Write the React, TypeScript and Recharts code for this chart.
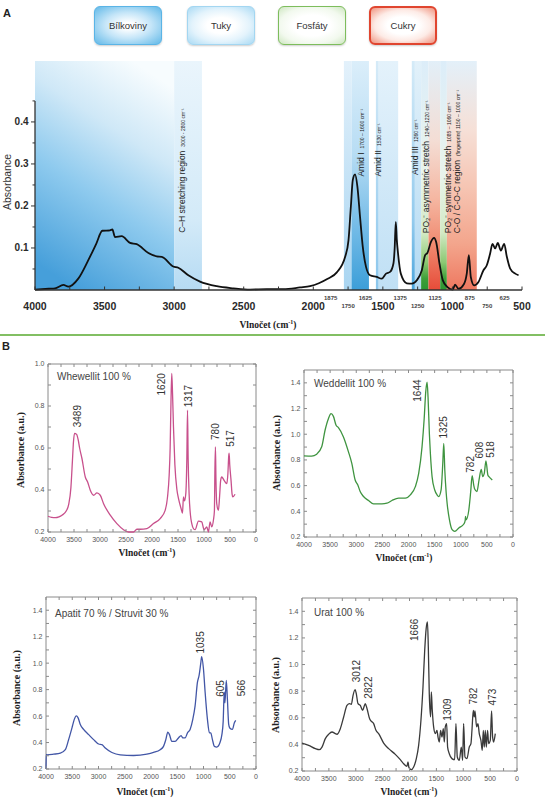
import React from 'react';
import { LineChart, Line, XAxis, YAxis, ReferenceArea, ReferenceLine, ReferenceDot } from 'recharts';

type Pt = [number, number];

const SANS = 'Arial, "Liberation Sans", sans-serif';
const SERIF = '"Times New Roman", "Liberation Serif", serif';

// ---- Panel A: tissue spectrum (wavenumber, absorbance)
const tissue: Pt[] = [
  [4000, 0.001], [3900, 0.003], [3856, 0.004], [3796, 0.012], [3760, 0.008], [3689, 0.027],
  [3617, 0.071], [3560, 0.11], [3516, 0.141], [3461, 0.142], [3444, 0.144], [3425, 0.126],
  [3377, 0.128], [3317, 0.112], [3269, 0.109], [3185, 0.088], [3125, 0.08], [3089, 0.079],
  [3006, 0.056], [2970, 0.053], [2898, 0.035], [2814, 0.02], [2694, 0.009], [2574, 0.004],
  [2454, 0.001], [2334, 0.002], [2215, 0.002], [2095, 0.006], [2023, 0.009], [1960, 0.016],
  [1900, 0.026], [1831, 0.042], [1771, 0.079], [1747, 0.118], [1730, 0.198], [1716, 0.262],
  [1700, 0.275], [1683, 0.246], [1664, 0.174], [1644, 0.102], [1621, 0.055], [1592, 0.035],
  [1544, 0.031], [1508, 0.027], [1477, 0.039], [1448, 0.043], [1424, 0.063], [1415, 0.1],
  [1407, 0.162], [1400, 0.12], [1393, 0.094], [1371, 0.039], [1328, 0.016], [1292, 0.015],
  [1256, 0.023], [1220, 0.047], [1196, 0.083], [1180, 0.088], [1155, 0.114], [1132, 0.124],
  [1117, 0.114], [1093, 0.063], [1069, 0.023], [1036, 0.007], [997, 0.001], [981, 0.013],
  [957, 0.003], [916, 0.015], [897, 0.039], [882, 0.083], [868, 0.031], [844, 0.011],
  [813, 0.019], [777, 0.047], [753, 0.059], [729, 0.087], [712, 0.11], [693, 0.099],
  [674, 0.112], [652, 0.094], [628, 0.11], [609, 0.079], [585, 0.051], [549, 0.039], [525, 0.035],
];

const tissueMajorTicks = [4000, 3500, 3000, 2500, 2000, 1500, 1000, 500];
const tissueUpperMinor = [1875, 1625, 1375, 1125, 875, 625];
const tissueLowerMinor = [1750, 1250, 750];
const tissueTickMarks = [4000, 3750, 3500, 3250, 3000, 2750, 2500, 2250, 2000, 1750, 1500, 1250, 1000, 750, 500];
const tissueYTicks = [0.05, 0.1, 0.15, 0.2, 0.25, 0.3, 0.35, 0.4, 0.45];
const tissueYLabels = [0.1, 0.2, 0.3, 0.4];

const bandRanges: Pt[] = [
  [4000, 3000], [3000, 2800], [1780, 1725], [1725, 1600], [1550, 1530], [1530, 1390],
  [1292, 1270], [1270, 1225], [1225, 1172], [1172, 1088], [1088, 1040], [1040, 825],
];
const bandFills = ['gBig', 'gCH', 'gAm1a', 'gAm1b', 'gAm2a', 'gAm2b', 'gAm3a', 'gAm3b', 'gGreen', 'gRed1', 'gGreen', 'gRed2'];

const bandTitles = ['C–H stretching region', 'Amid I', 'Amid II', 'Amid III', 'PO₂⁻ asymmetric stretch', 'PO₂⁻ symmetric stretch', 'C-O / C-O-C region'];
const bandNotes = ['3000 - 2800 cm⁻¹', '1700 – 1600 cm⁻¹', '1530 cm⁻¹', '1260 cm⁻¹', '1240–1220 cm⁻¹', '1085 – 1060 cm⁻¹', '(fingerprint) 1150 – 1000 cm⁻¹'];
// where each rotated caption starts (wavenumber, absorbance)
const bandTextAnchors: Pt[] = [[2945, 0.136], [1659, 0.27], [1532, 0.27], [1268, 0.274], [1189, 0.135], [1029, 0.135], [965, 0.135]];

const categories = ['Bílkoviny', 'Tuky', 'Fosfáty', 'Cukry'];

// ---- Panel B: stone spectra
const whewellit: Pt[] = [
  [4000, 0.275], [3930, 0.27], [3859, 0.268], [3790, 0.272], [3731, 0.28], [3650, 0.3], [3603, 0.33],
  [3560, 0.41], [3530, 0.54], [3510, 0.63], [3489, 0.67], [3450, 0.665], [3420, 0.64], [3392, 0.6],
  [3347, 0.55], [3283, 0.462], [3238, 0.438], [3187, 0.399], [3123, 0.375], [3059, 0.386],
  [2995, 0.375], [2931, 0.335], [2803, 0.28], [2675, 0.24], [2547, 0.211], [2451, 0.2], [2355, 0.2],
  [2291, 0.213], [2227, 0.213], [2099, 0.216], [1971, 0.24], [1843, 0.264], [1747, 0.303],
  [1700, 0.37], [1670, 0.47], [1651, 0.6], [1635, 0.82], [1620, 0.955], [1605, 0.86], [1587, 0.7],
  [1560, 0.52], [1520, 0.4], [1491, 0.36], [1440, 0.311], [1414, 0.29], [1395, 0.367], [1376, 0.348],
  [1350, 0.383], [1330, 0.55], [1317, 0.78], [1305, 0.55], [1286, 0.38], [1260, 0.28], [1235, 0.24],
  [1200, 0.215], [1171, 0.211], [1107, 0.252], [1043, 0.248], [998, 0.211], [947, 0.224], [915, 0.2],
  [883, 0.248], [851, 0.224], [819, 0.256], [800, 0.3], [790, 0.5], [780, 0.605], [770, 0.45],
  [755, 0.335], [723, 0.303], [700, 0.37], [680, 0.445], [659, 0.462], [614, 0.446], [563, 0.43],
  [540, 0.48], [525, 0.56], [517, 0.575], [505, 0.52], [480, 0.446], [460, 0.38], [448, 0.367], [403, 0.38],
];
const whewellitPeaks = [3489, 1620, 1317, 780, 517];

const weddellit: Pt[] = [
  [4000, 0.832], [3853, 0.83], [3757, 0.845], [3661, 0.902], [3597, 1.031], [3533, 1.121], [3482, 1.16],
  [3437, 1.139], [3386, 1.07], [3341, 1.052], [3245, 0.979], [3149, 0.863], [3085, 0.773], [3021, 0.644],
  [2970, 0.605], [2925, 0.554], [2861, 0.515], [2765, 0.484], [2669, 0.458], [2509, 0.458], [2413, 0.463],
  [2317, 0.484], [2189, 0.502], [2061, 0.502], [1965, 0.528], [1869, 0.592], [1805, 0.695], [1741, 0.902],
  [1700, 1.12], [1670, 1.33], [1644, 1.405], [1626, 1.289], [1600, 1.0], [1581, 0.85], [1549, 0.67],
  [1498, 0.566], [1453, 0.528], [1421, 0.515], [1376, 0.566], [1344, 0.773], [1325, 0.928], [1305, 0.72],
  [1280, 0.55], [1261, 0.463], [1216, 0.334], [1165, 0.257], [1114, 0.244], [1037, 0.27], [941, 0.301],
  [915, 0.33], [909, 0.36], [898, 0.334], [845, 0.412], [810, 0.55], [782, 0.677], [750, 0.6],
  [736, 0.575], [690, 0.554], [650, 0.644], [608, 0.726], [580, 0.67], [550, 0.695], [518, 0.793],
  [480, 0.68], [461, 0.67], [397, 0.644],
];
const weddellitPeaks = [1644, 1325, 782, 608, 518];

const apatit: Pt[] = [
  [4000, 0.2], [3995, 0.31], [3981, 0.307], [3854, 0.312], [3727, 0.32], [3632, 0.346], [3569, 0.422],
  [3505, 0.511], [3461, 0.575], [3423, 0.601], [3391, 0.588], [3347, 0.537], [3284, 0.499], [3188, 0.46],
  [3093, 0.422], [2998, 0.389], [2935, 0.384], [2871, 0.358], [2745, 0.325], [2586, 0.307], [2333, 0.302],
  [2079, 0.312], [1952, 0.325], [1825, 0.346], [1762, 0.371], [1718, 0.422], [1680, 0.478], [1648, 0.46],
  [1604, 0.409], [1540, 0.409], [1477, 0.435], [1426, 0.453], [1394, 0.435], [1350, 0.435], [1305, 0.473],
  [1255, 0.499], [1204, 0.575], [1160, 0.677], [1115, 0.856], [1084, 0.907], [1052, 1.0], [1035, 1.05],
  [1001, 0.958], [969, 0.78], [925, 0.575], [887, 0.473], [862, 0.473], [830, 0.422], [792, 0.371],
  [747, 0.366], [684, 0.402], [650, 0.46], [625, 0.56], [605, 0.78], [592, 0.7], [566, 0.87], [545, 0.73],
  [520, 0.537], [500, 0.51], [450, 0.499], [412, 0.55], [386, 0.568],
];
const apatitPeaks = [1035, 605, 566];

const urat: Pt[] = [
  [4000, 0.41], [3876, 0.393], [3752, 0.368], [3678, 0.36], [3628, 0.38], [3566, 0.443], [3504, 0.476],
  [3442, 0.493], [3380, 0.481], [3349, 0.476], [3287, 0.518], [3225, 0.606], [3163, 0.693], [3113, 0.706],
  [3082, 0.701], [3050, 0.769], [3012, 0.811], [2990, 0.781], [2958, 0.706], [2915, 0.693], [2872, 0.656],
  [2840, 0.69], [2822, 0.706], [2790, 0.668], [2740, 0.59], [2700, 0.57], [2667, 0.556], [2624, 0.506],
  [2574, 0.481], [2481, 0.41], [2388, 0.368], [2264, 0.325], [2171, 0.285], [2109, 0.255], [2047, 0.235],
  [2028, 0.268], [2010, 0.225], [1966, 0.21], [1923, 0.23], [1873, 0.293], [1830, 0.393], [1787, 0.581],
  [1749, 0.831], [1718, 1.1], [1690, 1.27], [1666, 1.32], [1650, 1.132], [1632, 0.781], [1607, 0.606],
  [1594, 0.794], [1576, 0.656], [1551, 0.531], [1520, 0.481], [1489, 0.506], [1470, 0.456], [1446, 0.418],
  [1421, 0.506], [1396, 0.456], [1371, 0.518], [1353, 0.418], [1334, 0.531], [1309, 0.556], [1291, 0.38],
  [1260, 0.33], [1210, 0.293], [1160, 0.285], [1136, 0.556], [1111, 0.305], [1074, 0.28], [1036, 0.38],
  [1012, 0.28], [993, 0.556], [968, 0.305], [931, 0.293], [888, 0.38], [857, 0.406], [838, 0.506],
  [813, 0.656], [795, 0.606], [782, 0.651], [751, 0.531], [726, 0.556], [702, 0.481], [671, 0.43],
  [646, 0.355], [627, 0.506], [609, 0.38], [590, 0.506], [571, 0.38], [547, 0.506], [528, 0.406],
  [497, 0.43], [473, 0.651], [454, 0.456], [435, 0.418], [404, 0.481],
];
const uratPeaks = [3012, 2822, 1666, 1309, 782, 473];

const stoneXTicks = [4000, 3750, 3500, 3250, 3000, 2750, 2500, 2250, 2000, 1750, 1500, 1250, 1000, 750, 500, 250, 0];
const yTicksLow = [0.2, 0.3, 0.4, 0.5, 0.6, 0.7, 0.8, 0.9, 1.0];
const yTicksHigh = [0.2, 0.3, 0.4, 0.5, 0.6, 0.7, 0.8, 0.9, 1.0, 1.1, 1.2, 1.3, 1.4];

const rows = (pts: Pt[]) => pts.map(([w, a]) => ({ w, a }));
const heightAt = (pts: Pt[], w: number) => (pts.find((p) => p[0] === w) || [w, 0])[1];

// ---------- Panel A pieces
const TissueXTick = (p: any) => {
  const { x, y, payload } = p;
  const v = payload.value;
  return (
    <g fontFamily={SANS} fontWeight="bold" fill="#2a2a2a">
      {tissueTickMarks.includes(v) && <line x1={x} x2={x} y1={y} y2={y - 3.5} stroke="#333" strokeWidth={1} />}
      {tissueMajorTicks.includes(v) && (
        <text x={x} y={y + 19.5} textAnchor="middle" fontSize={10.5}>{v}</text>
      )}
      {tissueUpperMinor.includes(v) && (
        <text x={x} y={y + 9.5} textAnchor="middle" fontSize={6} fill="#444">{v}</text>
      )}
      {tissueLowerMinor.includes(v) && (
        <text x={x} y={y + 17.5} textAnchor="middle" fontSize={6} fill="#444">{v}</text>
      )}
    </g>
  );
};

const TissueYTick = (p: any) => {
  const { x, y, payload } = p;
  const v = payload.value;
  const major = tissueYLabels.includes(v);
  return (
    <g>
      <line x1={x} x2={x - (major ? 4 : 2.5)} y1={y} y2={y} stroke="#333" strokeWidth={1} />
      {major && (
        <text x={x - 6.5} y={y} dy="0.35em" textAnchor="end" fontSize={10} fontWeight="bold" fontFamily={SANS} fill="#2a2a2a">
          {v.toFixed(1)}
        </text>
      )}
    </g>
  );
};

const bandCaption = (title: string, note: string) => (p: any) => {
  const bx = p.cx + 3;
  const by = p.cy;
  return (
    <text x={bx} y={by} transform={`rotate(-90 ${bx} ${by})`} fontFamily={SANS} fontSize={8.5} fill="#222">
      {title}
      <tspan dx={4} fontSize={5}>{note}</tspan>
    </text>
  );
};

const Gradient = ({ id, stops, x1 = 0, y1 = 0, x2 = 0, y2 = 1 }: any) => (
  <linearGradient id={id} x1={x1} y1={y1} x2={x2} y2={y2}>
    {stops.map(([o, c]: [number, string]) => (
      <stop key={o} offset={o} stopColor={c} />
    ))}
  </linearGradient>
);

const TissueChart = () => {
  const ticks = Array.from(new Set([...tissueTickMarks, ...tissueUpperMinor])).sort((a, b) => b - a);
  return (
    <LineChart width={545} height={340} data={rows(tissue)} margin={{ top: 61, right: 23, bottom: 0, left: 0 }}>
      <defs>
        <Gradient id="gBig" x1={0.7} y1={0} x2={0.3} y2={1}
          stops={[[0, '#f7fcfe'], [0.3, '#cfe8f7'], [0.6, '#8ecaee'], [1, '#469fda']]} />
        <Gradient id="gCH" stops={[[0, '#eaf5fc'], [0.7, '#d3eaf8'], [1, '#b6dbf3']]} />
        <Gradient id="gAm1a" stops={[[0, '#e3f1fb'], [1, '#a9d5f1']]} />
        <Gradient id="gAm1b" stops={[[0, '#dbeefa'], [0.4, '#b8ddf4'], [0.75, '#6fb9e6'], [1, '#3c9ed8']]} />
        <Gradient id="gAm2a" stops={[[0, '#d6ebf8'], [1, '#8ac6ec']]} />
        <Gradient id="gAm2b" stops={[[0, '#e4f2fb'], [1, '#c0e0f5']]} />
        <Gradient id="gAm3a" stops={[[0, '#d5ebf8'], [0.7, '#92caed'], [1, '#4aa5dc']]} />
        <Gradient id="gAm3b" stops={[[0, '#e2f1fa'], [1, '#b3daf3']]} />
        <Gradient id="gGreen"
          stops={[[0, '#dcedf9'], [0.5, '#e9f4ec'], [0.75, '#d3eac5'], [0.88, '#8cc873'], [0.95, '#3e9f39'], [1, '#2c9632']]} />
        <Gradient id="gRed1"
          stops={[[0, '#e2eff8'], [0.35, '#f4ddd4'], [0.6, '#f5b7a2'], [0.8, '#f08a70'], [1, '#e64c39']]} />
        <Gradient id="gRed2"
          stops={[[0, '#e3f0f9'], [0.3, '#f6e0d7'], [0.55, '#f6c5b3'], [0.8, '#f3a58c'], [1, '#ee7860']]} />
      </defs>
      {bandRanges.map(([from, to], i) => (
        <ReferenceArea key={i} x1={from} x2={to} fill={`url(#${bandFills[i]})`} fillOpacity={1} stroke="none" />
      ))}
      <XAxis dataKey="w" type="number" domain={[500, 4000]} reversed ticks={ticks} interval={0}
        tickSize={0} tickMargin={0} tickLine={false} axisLine={{ stroke: '#333', strokeWidth: 1.5 }}
        tick={TissueXTick} height={50} />
      <YAxis type="number" domain={[0, 0.545]} ticks={tissueYTicks} interval={0} width={35}
        tickSize={0} tickMargin={0} tickLine={false} axisLine={false} tick={TissueYTick} />
      <ReferenceLine segment={[{ x: 4000, y: 0 }, { x: 4000, y: 0.45 }]} stroke="#333" strokeWidth={1.3} />
      <Line dataKey="a" type="monotone" stroke="#111" strokeWidth={1.8} dot={false} isAnimationActive={false} />
      {bandTextAnchors.map(([w, a], i) => (
        <ReferenceDot key={i} x={w} y={a} r={0} shape={bandCaption(bandTitles[i], bandNotes[i])} />
      ))}
    </LineChart>
  );
};

// ---------- Panel B pieces
const FRAME = '#8a8a8a';

const stoneXTick = (plotH: number) => (p: any) => {
  const { x, y, payload } = p;
  const v = payload.value;
  return (
    <g>
      <line x1={x} x2={x} y1={y} y2={y - 3} stroke={FRAME} />
      <line x1={x} x2={x} y1={y - plotH} y2={y - plotH + 3} stroke={FRAME} />
      {v % 500 === 0 && (
        <text x={x} y={y + 10} textAnchor="middle" fontSize={7} fontFamily={SANS} fill="#555">{v}</text>
      )}
    </g>
  );
};

const stoneYTick = (plotW: number) => (p: any) => {
  const { x, y, payload } = p;
  const v = payload.value;
  const labelled = Math.round(v * 10) % 2 === 0;
  return (
    <g>
      <line x1={x} x2={x + 3} y1={y} y2={y} stroke={FRAME} />
      <line x1={x + plotW} x2={x + plotW - 3} y1={y} y2={y} stroke={FRAME} />
      {labelled && (
        <text x={x - 3.5} y={y} dy="0.35em" textAnchor="end" fontSize={7} fontFamily={SANS} fill="#555">
          {v.toFixed(1)}
        </text>
      )}
    </g>
  );
};

const peakLabel = (text: string, dx: number, dy: number) => (p: any) => {
  const bx = p.cx + dx + 3.5;
  const by = p.cy + dy;
  return (
    <text x={bx} y={by} transform={`rotate(-90 ${bx} ${by})`} fontSize={10} fontFamily={SANS} fill="#333">
      {text}
    </text>
  );
};

interface StoneProps {
  box: { left: number; top: number; width: number; height: number };
  plot: { l: number; t: number; r: number; b: number };
  data: Pt[];
  peaks: number[];
  shifts: Pt[];
  color: string;
  yMax: number;
  yTicks: number[];
}

const StoneChart = ({ box, plot, data, peaks, shifts, color, yMax, yTicks }: StoneProps) => {
  const plotW = plot.r - plot.l;
  const plotH = plot.b - plot.t;
  return (
    <div style={{ position: 'absolute', left: box.left, top: box.top }}>
      <LineChart width={box.width} height={box.height} data={rows(data)}
        margin={{ top: plot.t - box.top, right: box.left + box.width - plot.r, bottom: 0, left: 0 }}>
        <ReferenceArea x1={0} x2={4000} y1={0.2} y2={yMax} fill="none" stroke={FRAME} strokeWidth={1} />
        <XAxis dataKey="w" type="number" domain={[0, 4000]} reversed ticks={stoneXTicks} interval={0}
          tickSize={0} tickMargin={0} tickLine={false} axisLine={false}
          tick={stoneXTick(plotH)} height={box.top + box.height - plot.b} />
        <YAxis type="number" domain={[0.2, yMax]} ticks={yTicks} interval={0} width={plot.l - box.left}
          tickSize={0} tickMargin={0} tickLine={false} axisLine={false} tick={stoneYTick(plotW)} />
        <Line dataKey="a" type="monotone" stroke={color} strokeWidth={1.3} dot={false} isAnimationActive={false} />
        {peaks.map((w, i) => (
          <ReferenceDot key={w} x={w} y={heightAt(data, w)} r={0}
            shape={peakLabel(String(w), shifts[i][0], shifts[i][1])} />
        ))}
      </LineChart>
    </div>
  );
};

// ---------- page furniture
const Abs = ({ style, children }: any) => (
  <div style={{ position: 'absolute', lineHeight: 1, whiteSpace: 'nowrap', ...style }}>{children}</div>
);

const Rotated = ({ x, y, style, children }: any) => (
  <div style={{
    position: 'absolute', left: x, top: y, lineHeight: 1, whiteSpace: 'nowrap',
    transform: 'translate(-50%, -50%) rotate(-90deg)', ...style,
  }}>{children}</div>
);

const Centered = ({ x, y, style, children }: any) => (
  <div style={{
    position: 'absolute', left: x, top: y, lineHeight: 1, whiteSpace: 'nowrap',
    transform: 'translate(-50%, -50%)', ...style,
  }}>{children}</div>
);

const axisTitle = { fontFamily: SERIF, fontWeight: 'bold', fontSize: 9.5, color: '#222' };
const absTitle = { fontFamily: SERIF, fontWeight: 'bold', fontSize: 10, color: '#222' };
const sampleTitle = { fontFamily: SANS, fontSize: 10, color: '#444', transform: 'translateY(-50%)' };

const boxLeft = [94, 187, 278, 369];
const boxLook = [
  { border: '1.5px solid #5ab4e6', background: 'radial-gradient(ellipse at center, #ffffff 12%, #c4e5f8 50%, #62b9e8 100%)' },
  { border: '1.5px solid #a3d6f1', background: 'radial-gradient(ellipse at center, #ffffff 30%, #e3f3fc 62%, #a9daf4 100%)' },
  { border: '1.5px solid #7dbd5c', background: 'radial-gradient(ellipse at center, #ffffff 40%, #f2f9ee 70%, #cde6bf 100%)' },
  { border: '2px solid #e0452f', background: 'radial-gradient(ellipse at center, #ffffff 35%, #fdebe6 62%, #f0937f 100%)' },
];

const shiftsWhewellit: Pt[] = [[3, -6], [-10, 22], [1, -3], [0, -7], [1, -6.5]];
const shiftsWeddellit: Pt[] = [[-9.5, 19.5], [0, -5], [-2, -3], [-1.5, -11], [4.5, -3]];
const shiftsApatit: Pt[] = [[-1.5, -3], [-4, 4.5], [15.5, 16]];
const shiftsUrat: Pt[] = [[1, -7.5], [3.5, -5], [-12.8, 19], [1, -3], [-1.5, -6.5], [0.5, -5.5]];

export default function App() {
  return (
    <div style={{ position: 'absolute', left: 0, top: 0, width: 545, height: 800, background: '#fff', overflow: 'hidden', fontFamily: SANS }}>
      <div style={{ position: 'absolute', left: 0, top: 0 }}>
        <TissueChart />
      </div>

      {categories.map((c, i) => (
        <div key={c} style={{
          position: 'absolute', left: boxLeft[i], top: 6, width: 68, height: 39, boxSizing: 'border-box',
          borderRadius: 6, display: 'flex', alignItems: 'center', justifyContent: 'center',
          fontSize: 9.5, color: '#333', boxShadow: '0 1px 2px rgba(0,0,0,0.2)', ...boxLook[i],
        }}>{c}</div>
      ))}

      <Abs style={{ left: 3, top: 8, fontSize: 11, fontWeight: 'bold', color: '#222' }}>A</Abs>
      <Rotated x={6.5} y={182} style={{ fontSize: 10.5, color: '#333' }}>Absorbance</Rotated>
      <Centered x={268} y={325} style={axisTitle}>Vlnočet (cm<sup style={{ fontSize: 6 }}>-1</sup>)</Centered>

      <div style={{ position: 'absolute', left: 0, top: 334, width: 545, height: 1.5, background: '#82bf63' }} />
      <Abs style={{ left: 2, top: 341, fontSize: 11, fontWeight: 'bold', color: '#222' }}>B</Abs>

      <StoneChart box={{ left: 0, top: 330, width: 272, height: 240 }} plot={{ l: 48, t: 364, r: 256, b: 532 }}
        data={whewellit} peaks={whewellitPeaks} shifts={shiftsWhewellit} color="#c8508c" yMax={1.0} yTicks={yTicksLow} />
      <StoneChart box={{ left: 272, top: 330, width: 273, height: 240 }} plot={{ l: 304, t: 370, r: 513, b: 537 }}
        data={weddellit} peaks={weddellitPeaks} shifts={shiftsWeddellit} color="#3f9440" yMax={1.5} yTicks={yTicksHigh} />
      <StoneChart box={{ left: 0, top: 560, width: 272, height: 240 }} plot={{ l: 46, t: 597, r: 256, b: 769 }}
        data={apatit} peaks={apatitPeaks} shifts={shiftsApatit} color="#4256a6" yMax={1.5} yTicks={yTicksHigh} />
      <StoneChart box={{ left: 272, top: 560, width: 273, height: 240 }} plot={{ l: 302, t: 598, r: 517, b: 771 }}
        data={urat} peaks={uratPeaks} shifts={shiftsUrat} color="#3a3a3a" yMax={1.5} yTicks={yTicksHigh} />

      <Abs style={{ left: 57, top: 377, ...sampleTitle }}>Whewellit 100 %</Abs>
      <Abs style={{ left: 314, top: 384, ...sampleTitle }}>Weddellit 100 %</Abs>
      <Abs style={{ left: 55, top: 614, ...sampleTitle }}>Apatit 70 % / Struvit 30 %</Abs>
      <Abs style={{ left: 314, top: 613, ...sampleTitle }}>Urat 100 %</Abs>

      <Rotated x={20.5} y={450} style={absTitle}>Absorbance (a.u.)</Rotated>
      <Rotated x={277} y={453} style={absTitle}>Absorbance (a.u.)</Rotated>
      <Rotated x={17} y={688} style={absTitle}>Absorbance (a.u.)</Rotated>
      <Rotated x={275.5} y={695} style={absTitle}>Absorbance (a.u.)</Rotated>

      <Centered x={147} y={553} style={axisTitle}>Vlnočet (cm<sup style={{ fontSize: 6 }}>-1</sup>)</Centered>
      <Centered x={404} y={558} style={axisTitle}>Vlnočet (cm<sup style={{ fontSize: 6 }}>-1</sup>)</Centered>
      <Centered x={145} y={792} style={axisTitle}>Vlnočet (cm<sup style={{ fontSize: 6 }}>-1</sup>)</Centered>
      <Centered x={409} y={792} style={axisTitle}>Vlnočet (cm<sup style={{ fontSize: 6 }}>-1</sup>)</Centered>
    </div>
  );
}
